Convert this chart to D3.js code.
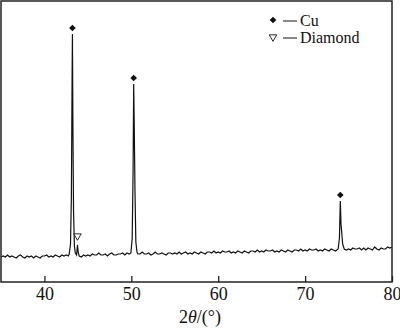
<!DOCTYPE html>
<html>
<head>
<meta charset="utf-8">
<script src="https://cdn.jsdelivr.net/npm/d3@7"></script>
<style>
  body { margin: 0; background: #fff; }
  svg { display: block; font-family: "Liberation Serif", "Times New Roman", serif; }
</style>
</head>
<body>
<div id="container"></div>
<script>
/* CONSTANTS AND GLOBALS */
const width = 400,
  height = 328,
  margin = { top: 1, bottom: 46, left: 1, right: 8 };

// background scan, one value per 0.25 deg from 35 to 80 (intensity, a.u.)
const baseStart = 35, baseStep = 0.25;
const baseline = [
  25, 26, 25, 27, 25, 26, 25, 24, 26, 27, 25, 24, 26, 25, 26, 24, 26, 25, 24, 26,
  26, 27, 25, 26, 25, 27, 26, 25, 27, 26, 27, 26, 25, 27, 28, 26, 26, 25, 27, 26,
  27, 26, 28, 27, 27, 29, 27, 27, 28, 26, 28, 29, 27, 27, 28, 28, 29, 27, 29, 28,
  28, 27, 29, 28, 28, 30, 28, 28, 29, 27, 28, 30, 28, 28, 29, 28, 27, 29, 29, 28,
  29, 28, 30, 28, 29, 30, 28, 29, 28, 30, 29, 28, 30, 29, 28, 30, 30, 29, 31, 29,
  30, 29, 31, 30, 30, 31, 29, 30, 29, 31, 30, 29, 31, 30, 29, 31, 31, 30, 32, 30,
  31, 30, 32, 31, 31, 32, 30, 31, 30, 32, 31, 30, 32, 31, 30, 32, 32, 31, 33, 31,
  32, 31, 33, 32, 32, 33, 31, 32, 31, 33, 32, 31, 33, 32, 31, 33, 33, 32, 34, 32,
  33, 32, 34, 33, 33, 34, 32, 34, 32, 34, 33, 32, 35, 33, 32, 34, 33, 33, 35, 34,
  35
];

// peak profiles [2theta, intensity]
const peakCu111 = [[42.85, 28], [43.0, 38], [43.1, 85], [43.18, 200], [43.22, 248], [43.28, 150], [43.35, 70], [43.45, 36], [43.55, 29]];
const peakDiamond = [[43.7, 27], [43.8, 37], [43.9, 29]];
const peakCu200 = [[49.95, 29], [50.1, 44], [50.2, 110], [50.27, 198], [50.33, 160], [50.42, 90], [50.52, 40], [50.65, 30]];
const peakCu220 = [[73.8, 33], [73.95, 44], [74.05, 81], [74.13, 58], [74.22, 49], [74.32, 38], [74.5, 33]];
const peakWindows = [[42.8, 43.6], [43.65, 43.95], [49.9, 50.7], [73.75, 74.55]];

// markers
const cuPeaks = [[43.22, 248], [50.27, 198], [74.05, 81]];
const diamondPeaks = [[43.8, 37]];

const xTicks = [40, 50, 60, 70, 80];
const legendItems = ["Cu", "Diamond"];

/* DATA */
let scan = baseline
  .map((v, i) => [baseStart + i * baseStep, v])
  .filter(d => !peakWindows.some(w => d[0] >= w[0] && d[0] <= w[1]));
scan = scan.concat(peakCu111, peakDiamond, peakCu200, peakCu220)
  .sort((a, b) => a[0] - b[0]);

/* SCALES */
const xScale = d3.scaleLinear()
  .domain([35, 80])
  .range([1, 392]);

const yScale = d3.scaleLinear()
  .domain([0, 281])
  .range([282, 1]);

const svg = d3.select("#container")
  .append("svg")
  .attr("width", width)
  .attr("height", height);

// spectrum
const line = d3.line()
  .x(d => xScale(d[0]))
  .y(d => yScale(d[1]));

svg.append("path")
  .datum(scan)
  .attr("fill", "none")
  .attr("stroke", "#111")
  .attr("stroke-width", 1.2)
  .attr("d", line);

// frame
svg.append("rect")
  .attr("x", 1)
  .attr("y", 1)
  .attr("width", 391)
  .attr("height", 281)
  .attr("fill", "none")
  .attr("stroke", "#222")
  .attr("stroke-width", 1.5);

// x axis, ticks inward
const xAxis = d3.axisBottom(xScale)
  .tickValues(xTicks)
  .tickSizeInner(-6)
  .tickSizeOuter(0)
  .tickPadding(5);

const gx = svg.append("g")
  .attr("transform", `translate(0, 282)`)
  .call(xAxis);
gx.select(".domain").remove();
gx.selectAll(".tick line").attr("stroke", "#222").attr("stroke-width", 1.3);
gx.selectAll(".tick text")
  .attr("font-family", "Liberation Serif, serif")
  .attr("font-size", "18px")
  .attr("fill", "#111");

// axis title
const title = svg.append("text")
  .attr("x", 200)
  .attr("y", 323)
  .attr("text-anchor", "middle")
  .attr("font-size", "18px")
  .attr("fill", "#111");
title.append("tspan").text("2");
title.append("tspan").attr("font-style", "italic").text("θ");
title.append("tspan").text("/(°)");

// peak markers: square turned 45 degrees gives the squat diamond
const diamondSym = d3.symbol().type(d3.symbolSquare).size(22);
const triSym = d3.symbol().type(d3.symbolTriangle).size(24);

svg.selectAll("path.cu")
  .data(cuPeaks)
  .join("path")
  .attr("class", "cu")
  .attr("d", diamondSym)
  .attr("transform", d => `translate(${xScale(d[0])}, ${yScale(d[1]) - 6}) rotate(45)`)
  .attr("fill", "#111");

svg.selectAll("path.dia")
  .data(diamondPeaks)
  .join("path")
  .attr("class", "dia")
  .attr("d", triSym)
  .attr("transform", d => `translate(${xScale(d[0])}, ${yScale(d[1]) - 9}) rotate(180)`)
  .attr("fill", "#fff")
  .attr("stroke", "#111")
  .attr("stroke-width", 0.9);

// legend
const legend = svg.append("g");
legendItems.forEach((name, i) => {
  const y = 20 + i * 17;
  legend.append("path")
    .attr("d", i === 0 ? diamondSym() : triSym())
    .attr("transform", i === 0 ? `translate(273, ${y}) rotate(45)` : `translate(273, ${y}) rotate(180)`)
    .attr("fill", i === 0 ? "#111" : "#fff")
    .attr("stroke", i === 0 ? "none" : "#111")
    .attr("stroke-width", 0.9);
  legend.append("line")
    .attr("x1", 283).attr("x2", 297)
    .attr("y1", y + 1).attr("y2", y + 1)
    .attr("stroke", "#111")
    .attr("stroke-width", 1);
  legend.append("text")
    .attr("x", 300)
    .attr("y", y + 6)
    .attr("font-size", "16px")
    .attr("fill", "#111")
    .text(name);
});
</script>
</body>
</html>
